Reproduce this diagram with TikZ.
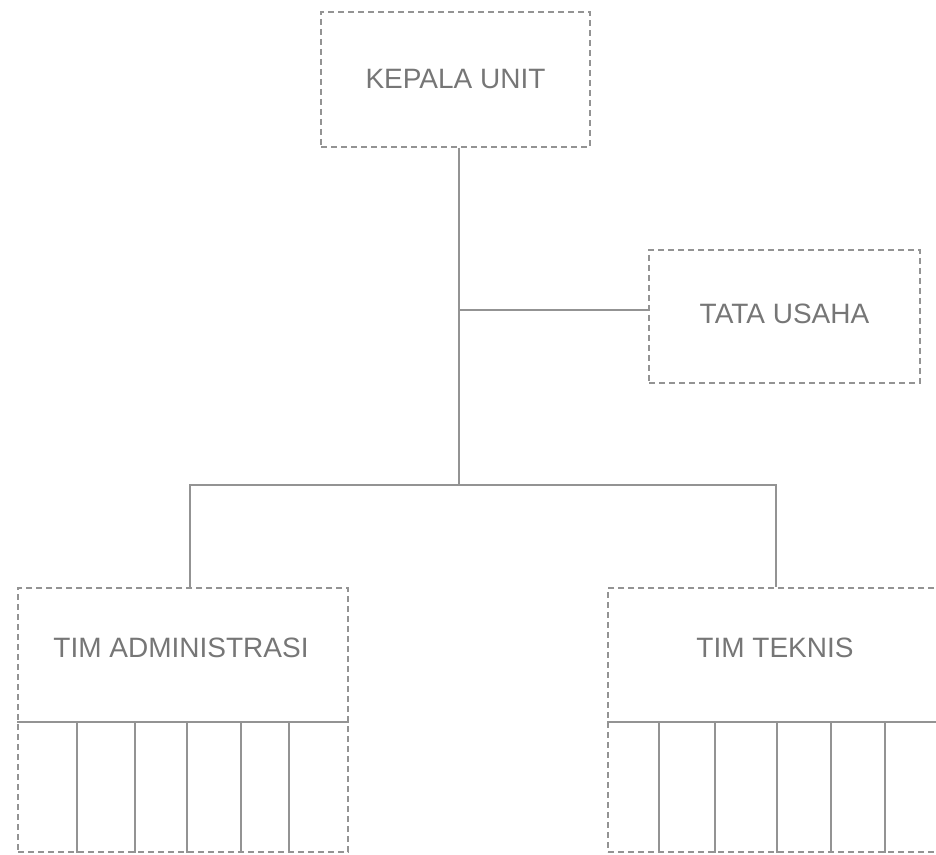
\documentclass[tikz,border=0pt]{standalone}
\usepackage{fontspec}
\setmainfont{Liberation Sans}
\definecolor{linegray}{HTML}{939393}
\definecolor{textgray}{HTML}{767676}
\begin{document}
\begin{tikzpicture}[x=0.5pt, y=-0.5pt,
  unit/.style={draw=linegray, dash pattern=on 3pt off 2pt, line width=0.6pt, text=textgray, font=\fontsize{14}{16}\selectfont, inner sep=0pt},
  title/.style={text=textgray, font=\fontsize{14}{16}\selectfont, inner sep=0pt},
  link/.style={draw=linegray, line width=0.75pt}]
\clip (0,0) rectangle (936,855);
\node[unit, minimum width=134.5pt, minimum height=67.5pt] (kepala) at (455.5,79.5) {KEPALA UNIT};
\node[unit, minimum width=135.5pt, minimum height=66.5pt] (tata) at (784.5,316.5) {\raisebox{3pt}{TATA USAHA}};
\node[unit, minimum width=165pt, minimum height=132pt] (admin) at (183,720) {};
\node[unit, minimum width=168pt, minimum height=132pt] (teknis) at (776,720) {};
\node[title] (admintitle) at (181,648) {TIM ADMINISTRASI};
\node[title] (teknistitle) at (775,648) {TIM TEKNIS};
\coordinate (fork) at (459,485);
\draw[link] (kepala.south -| fork) -- (fork);
\draw[link] (fork |- 0,310) -- (tata.west |- 0,310);
\draw[link] ([xshift=3.5pt]admin.north) |- (fork) -| (teknis.north);
\draw[link] (admin.west |- 0,722) -- (admin.east |- 0,722);
\foreach \x in {77,135,187,241,289}
  \draw[link] (\x,722) -- (\x,0 |- admin.south);
\draw[link] (teknis.west |- 0,722) -- (teknis.east |- 0,722);
\foreach \x in {659,715,777,831,885}
  \draw[link] (\x,722) -- (\x,0 |- teknis.south);
\end{tikzpicture}
\end{document}
